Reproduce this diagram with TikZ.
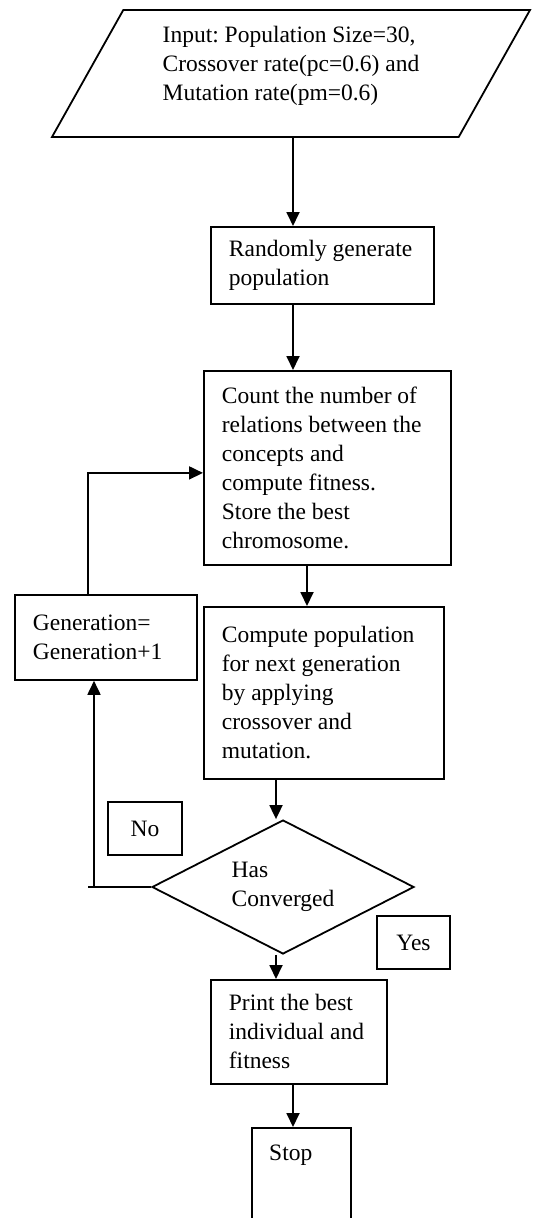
\documentclass[tikz,border=0pt]{standalone}
\usepackage{fontspec}
\setmainfont{Liberation Serif}
\frenchspacing
\usetikzlibrary{arrows.meta,shapes.geometric,calc}
\tikzset{
    every picture/.style={line join=miter},
    inputbox/.style={trapezium,draw,line width=1.8pt,
      trapezium left angle=53.2,trapezium right angle=126.8,
      trapezium stretches body,minimum width=478pt,minimum height=127pt,
      inner sep=0pt,align=flush left},
    stepbox/.style={draw,line width=1.8pt,inner xsep=18pt,inner ysep=0pt,
      align=flush left,anchor=north west},
    decision/.style={diamond,draw,line width=1.8pt,aspect=2,inner sep=0pt,
      minimum width=262pt,minimum height=134pt,align=flush left},
    tagbox/.style={draw,line width=1.8pt,inner sep=0pt},
    flow/.style={-{Triangle[length=14pt,width=13pt]},line width=1.8pt},
    link/.style={line width=1.8pt}
}
\begin{document}
\begin{tikzpicture}[x=1pt,y=-1pt,font=\fontsize{23.5}{29}\selectfont]
  \useasboundingbox (0,0) rectangle (551,1218);
  % columns that the connectors run along
  \coordinate (colA) at (293,0);
  \coordinate (colB) at (307,0);
  \coordinate (colC) at (276,0);
  \coordinate (loopL) at (88,0);
  \coordinate (loopN) at (94,0);

  \node[inputbox] (input) at (291,73.5) {Input: Population Size=30,\\Crossover rate(pc=0.6) and\\Mutation rate(pm=0.6)\rule[-21pt]{0pt}{0pt}};
  \node[stepbox,text width=187pt,minimum height=77pt] (rand) at (210,226) {Randomly generate\\population};
  \node[stepbox,text width=211pt,minimum height=194pt] (count) at (203,370) {Count the number of\\relations between the\\concepts and\\compute fitness.\\Store the best\\chromosome.};
  \node[stepbox,text width=146pt,minimum height=85pt] (gen) at (14,594) {Generation=\\Generation+1};
  \node[stepbox,text width=204pt,minimum height=172pt] (comp) at (203,606) {Compute population\\for next generation\\by applying\\crossover and\\mutation.};
  \node[decision] (conv) at (283,887) {Has\\Converged};
  \node[tagbox,minimum width=74pt,minimum height=53pt] (no) at (145,828.5) {No};
  \node[tagbox,minimum width=73pt,minimum height=53pt] (yes) at (413.5,942.5) {Yes};
  \node[stepbox,text width=140pt,minimum height=104pt] (print) at (210,979) {Print the best\\individual and\\fitness};
  \node[stepbox,minimum width=99pt,minimum height=130pt] (stop) at (251,1127) {};
  \node[anchor=north west,inner sep=18pt] (stoptext) at (stop.north west) {Stop};

  \draw[flow] (colA |- input.south) -- (colA |- rand.north);
  \draw[flow] (colA |- rand.south) -- (colA |- count.north);
  \draw[flow] (colB |- count.south) -- (colB |- comp.north);
  \draw[flow] (colC |- comp.south) -- (colC |- conv.north);
  \draw[flow] (colC |- conv.south) -- (colC |- print.north);
  \draw[flow] (colA |- print.south) -- (colA |- stop.north);
  \draw[link] (conv.west) -- (loopL |- conv.west);
  \draw[flow] (loopN |- conv.west) -- (loopN |- gen.south);
  \draw[flow] (loopL |- gen.north) |- ([yshift=-5pt]count.west);
\end{tikzpicture}
\end{document}
